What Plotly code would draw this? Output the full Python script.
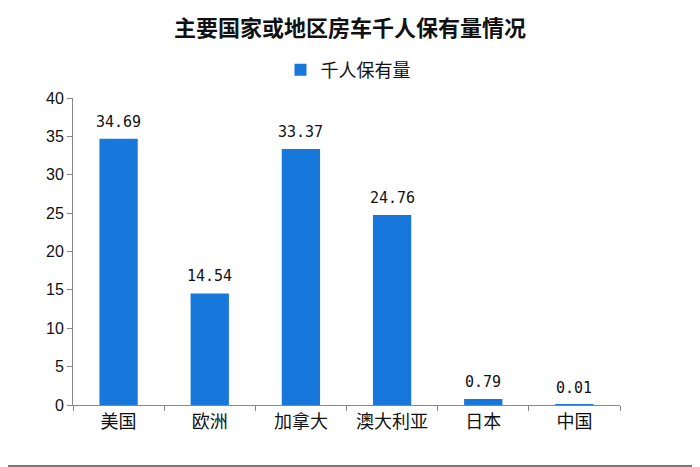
import plotly.graph_objects as go

categories = ["美国", "欧洲", "加拿大", "澳大利亚", "日本", "中国"]
values = [34.69, 14.54, 33.37, 24.76, 0.79, 0.01]
value_labels = ["34.69", "14.54", "33.37", "24.76", "0.79", "0.01"]
series_name = "千人保有量"
title_text = "主要国家或地区房车千人保有量情况"
y_ticks = [0, 5, 10, 15, 20, 25, 30, 35, 40]

cjk = "Noto Sans CJK SC"
bar_color = "#1877DB"

fig = go.Figure()
fig.add_trace(go.Bar(
    x=categories, y=values, name=series_name,
    marker=dict(color=bar_color, line=dict(width=0)),
))

for c, v, t in zip(categories, values, value_labels):
    fig.add_annotation(
        x=c, y=v, text=t, showarrow=False, yanchor="bottom", yshift=6,
        font=dict(family="DejaVu Sans Mono, monospace", size=15, color="#111111"),
    )

# page body has an 8px margin, so layout coordinates are shifted by -8px
fig.update_layout(
    width=700, height=467,
    paper_bgcolor="white", plot_bgcolor="white",
    margin=dict(l=65, r=88, t=90, b=70, autoexpand=False),
    title=dict(text="<b>" + title_text + "</b>", x=342 / 700, xanchor="center",
               xref="container", y=1 - 20 / 467, yanchor="middle", yref="container",
               font=dict(family=cjk, size=22, color="#111111")),
    showlegend=True,
    legend=dict(orientation="h", x=340 / 700, xanchor="center", xref="container",
                y=1 - 62 / 467, yanchor="middle", yref="container",
                font=dict(family=cjk, size=18, color="#111111"),
                itemwidth=30),
    bargap=0.58,
    font=dict(family=cjk, color="#111111"),
)
fig.update_xaxes(
    showline=True, linecolor="#888888", linewidth=1,
    ticks="outside", tickson="boundaries", ticklen=5, tickcolor="#888888",
    tickfont=dict(family=cjk, size=18, color="#111111"),
    showgrid=False,
)
fig.update_yaxes(
    range=[0, 40], tickvals=y_ticks,
    showline=True, linecolor="#888888", linewidth=1,
    ticks="outside", ticklen=5, tickcolor="#888888",
    tickfont=dict(family="Liberation Sans, Arial", size=16, color="#111111"),
    showgrid=False, zeroline=False,
)
# photo frame line near the bottom edge
fig.add_shape(type="line", xref="paper", yref="paper", x0=-0.2, x1=1.2,
              y0=(397 - 458) / 307, y1=(397 - 458) / 307,
              line=dict(color="#777777", width=2))
fig.write_html("out.html")
